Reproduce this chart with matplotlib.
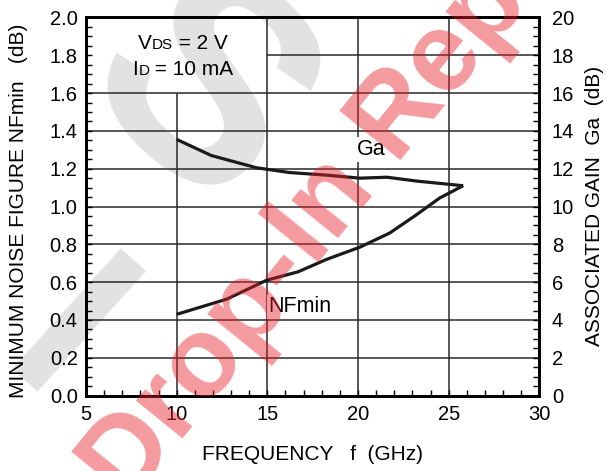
import matplotlib
matplotlib.use("Agg")
import matplotlib.pyplot as plt
from matplotlib.ticker import MultipleLocator
from matplotlib.offsetbox import TextArea, HPacker, VPacker, AnnotationBbox

plt.rcParams['font.family'] = ['Liberation Sans', 'DejaVu Sans']

# data
freq_ga = [10, 11.9, 14.4, 16.2, 18.4, 20.1, 21.6, 23.2, 25.8]
ga = [13.55, 12.7, 12.05, 11.8, 11.65, 11.5, 11.55, 11.35, 11.1]

freq_nf = [10, 12.75, 14.95, 16.7, 18.25, 20.1, 21.75, 23.2, 24.5, 25.8]
nf = [0.43, 0.51, 0.61, 0.655, 0.72, 0.785, 0.86, 0.955, 1.045, 1.11]

x_ticks = [5, 10, 15, 20, 25, 30]
nf_ticks = [0.0, 0.2, 0.4, 0.6, 0.8, 1.0, 1.2, 1.4, 1.6, 1.8, 2.0]
ga_ticks = [0, 2, 4, 6, 8, 10, 12, 14, 16, 18, 20]

W, H = 606, 471
fig = plt.figure(figsize=(W / 100, H / 100), dpi=100)
ax = fig.add_axes([0.142, 0.160, 0.748, 0.803])
ax.set_facecolor('none')
ax2 = ax.twinx()

ax.set_xlim(5, 30)
ax.set_ylim(0, 2.0)
ax2.set_ylim(0, 20)

# grid (drawn by hand, some lines are cut by the condition box)
gcol = '#2a2a2a'
ax.vlines(10, 0, 1.6, color=gcol, lw=1.1, zorder=1)
ax.vlines([15, 20, 25], 0, 2.0, color=gcol, lw=1.1, zorder=1)
ax.hlines([0.2, 0.4, 0.6, 0.8, 1.0, 1.2, 1.4, 1.6], 5, 30, color=gcol, lw=1.1, zorder=1)
ax.hlines(1.8, 15, 30, color=gcol, lw=1.1, zorder=1)

# curves
ax.plot(freq_nf, nf, color='#1a1a1a', lw=2.3, zorder=3, solid_capstyle='butt')
ax2.plot(freq_ga, ga, color='#1a1a1a', lw=2.3, zorder=3, solid_capstyle='butt')

ax.text(19.95, 1.30, 'Ga', fontsize=15.5, va='center', ha='left', zorder=2,
        bbox=dict(facecolor='white', edgecolor='none', pad=1.5))
ax.text(15.05, 0.47, 'NFmin', fontsize=15.5, va='center', ha='left', zorder=2,
        bbox=dict(facecolor='white', edgecolor='none', pad=1.0))

# condition box text with small-caps style subscripts
big = dict(size=15)
small = dict(size=11)
l1 = HPacker(children=[TextArea('V', textprops=big), TextArea('DS', textprops=small),
                       TextArea(' = 2 V', textprops=big)], align='baseline', pad=0, sep=0)
l2 = HPacker(children=[TextArea('I', textprops=big), TextArea('D', textprops=small),
                       TextArea(' = 10 mA', textprops=big)], align='baseline', pad=0, sep=0)
box = VPacker(children=[l1, l2], align='center', pad=0, sep=5)
ab = AnnotationBbox(box, (10.35, 1.795), xycoords='data', frameon=False,
                    box_alignment=(0.5, 0.5), zorder=4)
ax.add_artist(ab)

# ticks
ax.set_xticks(x_ticks)
ax.set_yticks(nf_ticks)
ax.set_yticklabels([f'{v:.1f}' for v in nf_ticks])
ax.xaxis.set_minor_locator(MultipleLocator(1))
ax.yaxis.set_minor_locator(MultipleLocator(0.05))
ax.tick_params(which='both', direction='in', length=4, width=1, top=False, right=False,
               labelsize=14.5)
ax.tick_params(axis='x', pad=7)
ax.tick_params(axis='y', pad=6)

ax2.set_yticks(ga_ticks)
ax2.yaxis.set_minor_locator(MultipleLocator(0.5))
ax2.tick_params(which='both', direction='in', length=4, width=1, labelsize=14.5, pad=9)

for a in (ax, ax2):
    for s in a.spines.values():
        s.set_linewidth(2.0)

# axis titles
fig.text(19 / W, 1 - 211 / H, 'MINIMUM NOISE FIGURE NFmin   (dB)', rotation=90,
         ha='center', va='center', fontsize=15)
fig.text(594 / W, 1 - 206 / H, 'ASSOCIATED GAIN  Ga  (dB)', rotation=90,
         ha='center', va='center', fontsize=15)
fig.text(313 / W, 1 - 455 / H, 'FREQUENCY   f  (GHz)', ha='center', va='center',
         fontsize=15)

# watermarks
fig.text(195 / W, 1 - 100 / H, 'S', rotation=-42, ha='center', va='center',
         fontsize=210, fontweight='bold', color='#e2e2e2', zorder=-1)
fig.text(60 / W, 1 - 345 / H, 'I', rotation=-42, ha='center', va='center',
         fontsize=170, fontweight='bold', color='#e2e2e2', zorder=-1)
anchor = (314 / W, 1 - 268 / H)
wm = dict(rotation=51, rotation_mode='anchor', va='baseline', fontsize=81,
          fontweight='bold', color='#e8202a', alpha=0.45, zorder=10)
fig.text(*anchor, 'Drop-', ha='right', **wm)
fig.text(*anchor, 'In Replacement', ha='left', **wm)

fig.savefig('out.png', dpi=100)
